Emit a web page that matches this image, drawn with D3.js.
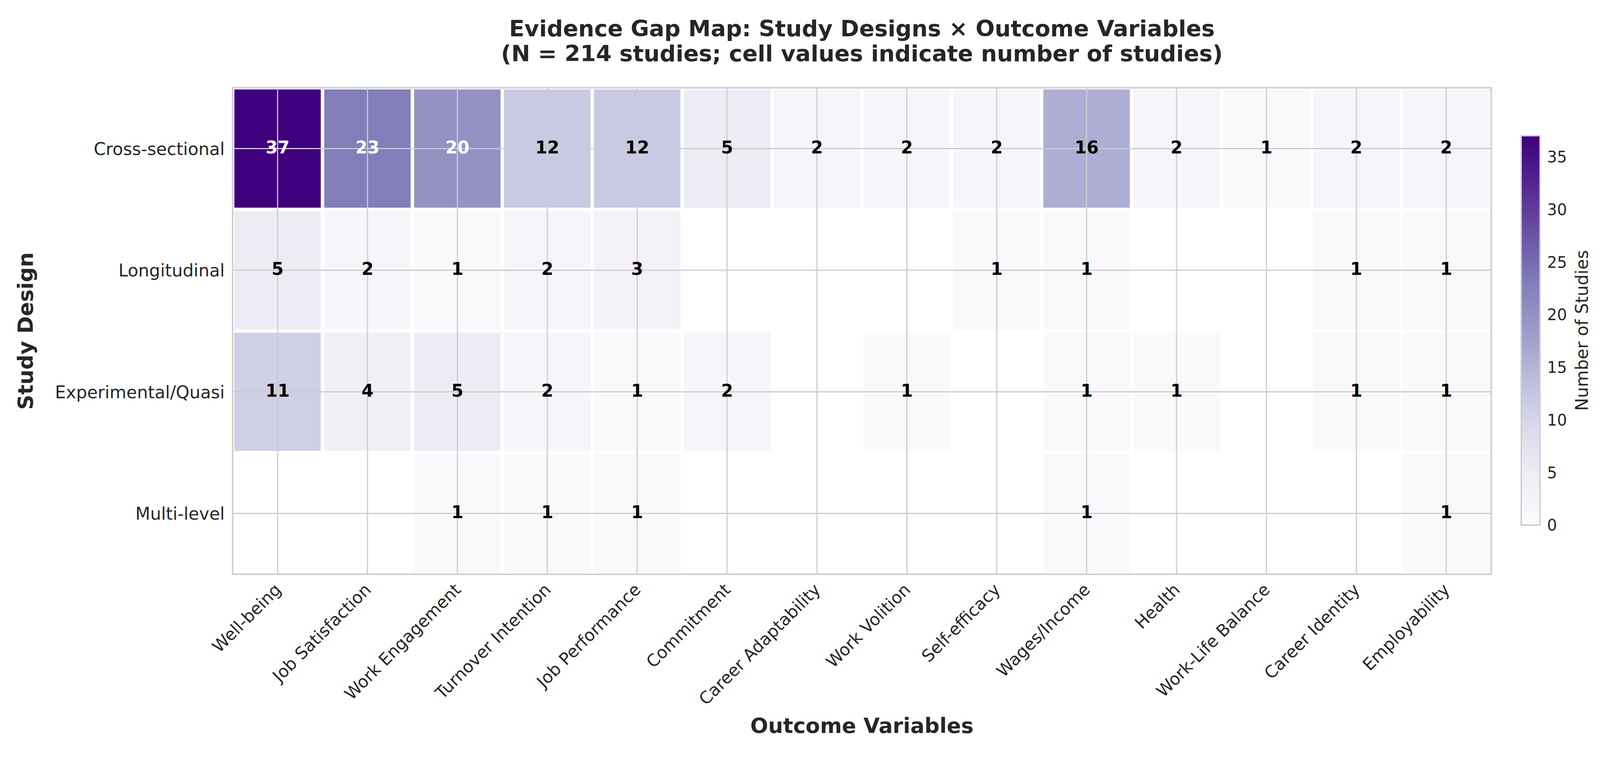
<!DOCTYPE html>
<html>
<head>
<meta charset="utf-8">
<title>Evidence Gap Map</title>
<script src="https://cdn.jsdelivr.net/npm/d3@7"></script>
<style>
    html, body { margin: 0; padding: 0; background: #ffffff; overflow: hidden; }
    svg { display: block; }
    svg text { font-family: "DejaVu Sans", sans-serif; fill: #262626; }
</style>
</head>
<body>
<div id="gap-map"></div>
<script>
// Categories
const outcomes = ["Well-being", "Job Satisfaction", "Work Engagement", "Turnover Intention",
    "Job Performance", "Commitment", "Career Adaptability", "Work Volition", "Self-efficacy",
    "Wages/Income", "Health", "Work-Life Balance", "Career Identity", "Employability"];
const designs = ["Cross-sectional", "Longitudinal", "Experimental/Quasi", "Multi-level"];

// Number of studies per outcome, one array per study design
const crossSectional = [37, 23, 20, 12, 12, 5, 2, 2, 2, 16, 2, 1, 2, 2];
const longitudinal   = [5, 2, 1, 2, 3, 0, 0, 0, 1, 1, 0, 0, 1, 1];
const experimental   = [11, 4, 5, 2, 1, 2, 0, 1, 0, 1, 1, 0, 1, 1];
const multiLevel     = [0, 0, 1, 1, 1, 0, 0, 0, 0, 1, 0, 0, 0, 1];

// Colorbar ticks and matplotlib "Purples" stops
const colorbarTicks = [0, 5, 10, 15, 20, 25, 30, 35];
const purples = ["#fcfbfd", "#efedf5", "#dadaeb", "#bcbddc", "#9e9ac8",
    "#807dba", "#6a51a3", "#54278f", "#3f007d"];

const titleLines = ["Evidence Gap Map: Study Designs \u00d7 Outcome Variables",
    "(N = 214 studies; cell values indicate number of studies)"];

class GapMapVis {
    constructor(parentElement, rows) {
        this.parentElement = parentElement;
        this.rows = rows;
        this.initVis();
    }

    initVis() {
        let vis = this;

        vis.width = 4264;
        vis.height = 1990;
        vis.plot = { left: 620, right: 3974, top: 234, bottom: 1531 };

        // drawn in a 4264x1990 user space, scaled to the window width, pinned to the top
        vis.svg = d3.select("#" + vis.parentElement).append("svg")
            .attr("viewBox", "0 0 " + vis.width + " " + vis.height)
            .attr("preserveAspectRatio", "xMinYMin meet")
            .attr("width", "100%")
            .style("height", "100vh");

        // flatten rows into cells
        vis.cells = [];
        vis.rows.forEach((values, i) => {
            values.forEach((v, j) => {
                vis.cells.push({ design: designs[i], outcome: outcomes[j], value: v });
            });
        });

        vis.vmax = d3.max(vis.cells, d => d.value);

        // Scales
        vis.x = d3.scaleBand()
            .domain(outcomes)
            .range([vis.plot.left, vis.plot.right]);

        vis.y = d3.scaleBand()
            .domain(designs)
            .range([vis.plot.top, vis.plot.bottom]);

        vis.color = d3.scaleLinear()
            .domain(purples.map((c, i) => i / (purples.length - 1) * vis.vmax))
            .range(purples);

        vis.updateVis();
    }

    updateVis() {
        let vis = this;

        // Cells (zero cells are left empty)
        vis.svg.append("g")
            .selectAll(".cell")
            .data(vis.cells.filter(d => d.value > 0))
            .enter().append("rect")
            .attr("class", "cell")
            .attr("x", d => vis.x(d.outcome))
            .attr("y", d => vis.y(d.design))
            .attr("width", vis.x.bandwidth())
            .attr("height", vis.y.bandwidth())
            .attr("fill", d => vis.color(d.value))
            .attr("stroke", "#ffffff")
            .attr("stroke-width", 9);

        // Grid lines at tick positions
        let grid = vis.svg.append("g")
            .attr("stroke", "#cccccc")
            .attr("stroke-width", 3);

        grid.selectAll(".vgrid")
            .data(outcomes)
            .enter().append("line")
            .attr("x1", d => vis.x(d) + vis.x.bandwidth() / 2)
            .attr("x2", d => vis.x(d) + vis.x.bandwidth() / 2)
            .attr("y1", vis.plot.top)
            .attr("y2", vis.plot.bottom);

        grid.selectAll(".hgrid")
            .data(designs)
            .enter().append("line")
            .attr("x1", vis.plot.left)
            .attr("x2", vis.plot.right)
            .attr("y1", d => vis.y(d) + vis.y.bandwidth() / 2)
            .attr("y2", d => vis.y(d) + vis.y.bandwidth() / 2);

        // Frame
        vis.svg.append("rect")
            .attr("x", vis.plot.left)
            .attr("y", vis.plot.top)
            .attr("width", vis.plot.right - vis.plot.left)
            .attr("height", vis.plot.bottom - vis.plot.top)
            .attr("fill", "none")
            .attr("stroke", "#cccccc")
            .attr("stroke-width", 4);

        // Cell annotations
        vis.svg.append("g")
            .selectAll(".annot")
            .data(vis.cells.filter(d => d.value > 0))
            .enter().append("text")
            .attr("class", "annot")
            .attr("x", d => vis.x(d.outcome) + vis.x.bandwidth() / 2)
            .attr("y", d => vis.y(d.design) + vis.y.bandwidth() / 2 + 13)
            .attr("text-anchor", "middle")
            .attr("font-size", 46)
            .attr("font-weight", "bold")
            .style("fill", d => d.value > vis.vmax / 2 ? "#ffffff" : "#000000")
            .text(d => d.value);

        // Y tick labels
        vis.svg.append("g")
            .selectAll(".ylab")
            .data(designs)
            .enter().append("text")
            .attr("x", 599)
            .attr("y", d => vis.y(d) + vis.y.bandwidth() / 2 + 17)
            .attr("text-anchor", "end")
            .attr("font-size", 46)
            .text(d => d);

        // X tick labels, rotated 45 degrees
        vis.svg.append("g")
            .selectAll(".xlab")
            .data(outcomes)
            .enter().append("text")
            .attr("transform", d => "translate(" + (vis.x(d) + vis.x.bandwidth() / 2 + 12) + ",1575) rotate(-45)")
            .attr("text-anchor", "end")
            .attr("font-size", 45)
            .text(d => d);

        // Axis titles
        vis.svg.append("text")
            .attr("x", (vis.plot.left + vis.plot.right) / 2)
            .attr("y", 1954)
            .attr("text-anchor", "middle")
            .attr("font-size", 56)
            .attr("font-weight", "bold")
            .text("Outcome Variables");

        vis.svg.append("text")
            .attr("transform", "translate(87," + (vis.plot.top + vis.plot.bottom) / 2 + ") rotate(-90)")
            .attr("text-anchor", "middle")
            .attr("font-size", 56)
            .attr("font-weight", "bold")
            .text("Study Design");

        // Title
        vis.svg.append("g")
            .selectAll(".title")
            .data(titleLines)
            .enter().append("text")
            .attr("x", (vis.plot.left + vis.plot.right) / 2)
            .attr("y", (d, i) => 97 + i * 66)
            .attr("text-anchor", "middle")
            .attr("font-size", 60)
            .attr("font-weight", "bold")
            .text(d => d);

        vis.drawColorbar();
    }

    drawColorbar() {
        let vis = this;

        let cb = { left: 4054, width: 50, top: 362, bottom: 1400 };

        let cy = d3.scaleLinear()
            .domain([0, vis.vmax])
            .range([cb.bottom, cb.top]);

        let grad = vis.svg.append("defs").append("linearGradient")
            .attr("id", "cbar-grad")
            .attr("x1", 0).attr("y1", 1)
            .attr("x2", 0).attr("y2", 0);

        grad.selectAll("stop")
            .data(purples)
            .enter().append("stop")
            .attr("offset", (d, i) => i / (purples.length - 1))
            .attr("stop-color", d => d);

        vis.svg.append("rect")
            .attr("x", cb.left)
            .attr("y", cy(vis.vmax))
            .attr("width", cb.width)
            .attr("height", cy(0) - cy(vis.vmax))
            .attr("fill", "url(#cbar-grad)")
            .attr("stroke", "#cccccc")
            .attr("stroke-width", 3.5);

        vis.svg.append("g")
            .selectAll(".cbtick")
            .data(colorbarTicks)
            .enter().append("text")
            .attr("x", 4123)
            .attr("y", d => cy(d) + 15)
            .attr("font-size", 41.7)
            .text(d => d);

        vis.svg.append("text")
            .attr("transform", "translate(4232," + (cb.top + cb.bottom) / 2 + ") rotate(-90)")
            .attr("text-anchor", "middle")
            .attr("font-size", 46)
            .text("Number of Studies");
    }
}

let gapMap = new GapMapVis("gap-map", [crossSectional, longitudinal, experimental, multiLevel]);
</script>
</body>
</html>
